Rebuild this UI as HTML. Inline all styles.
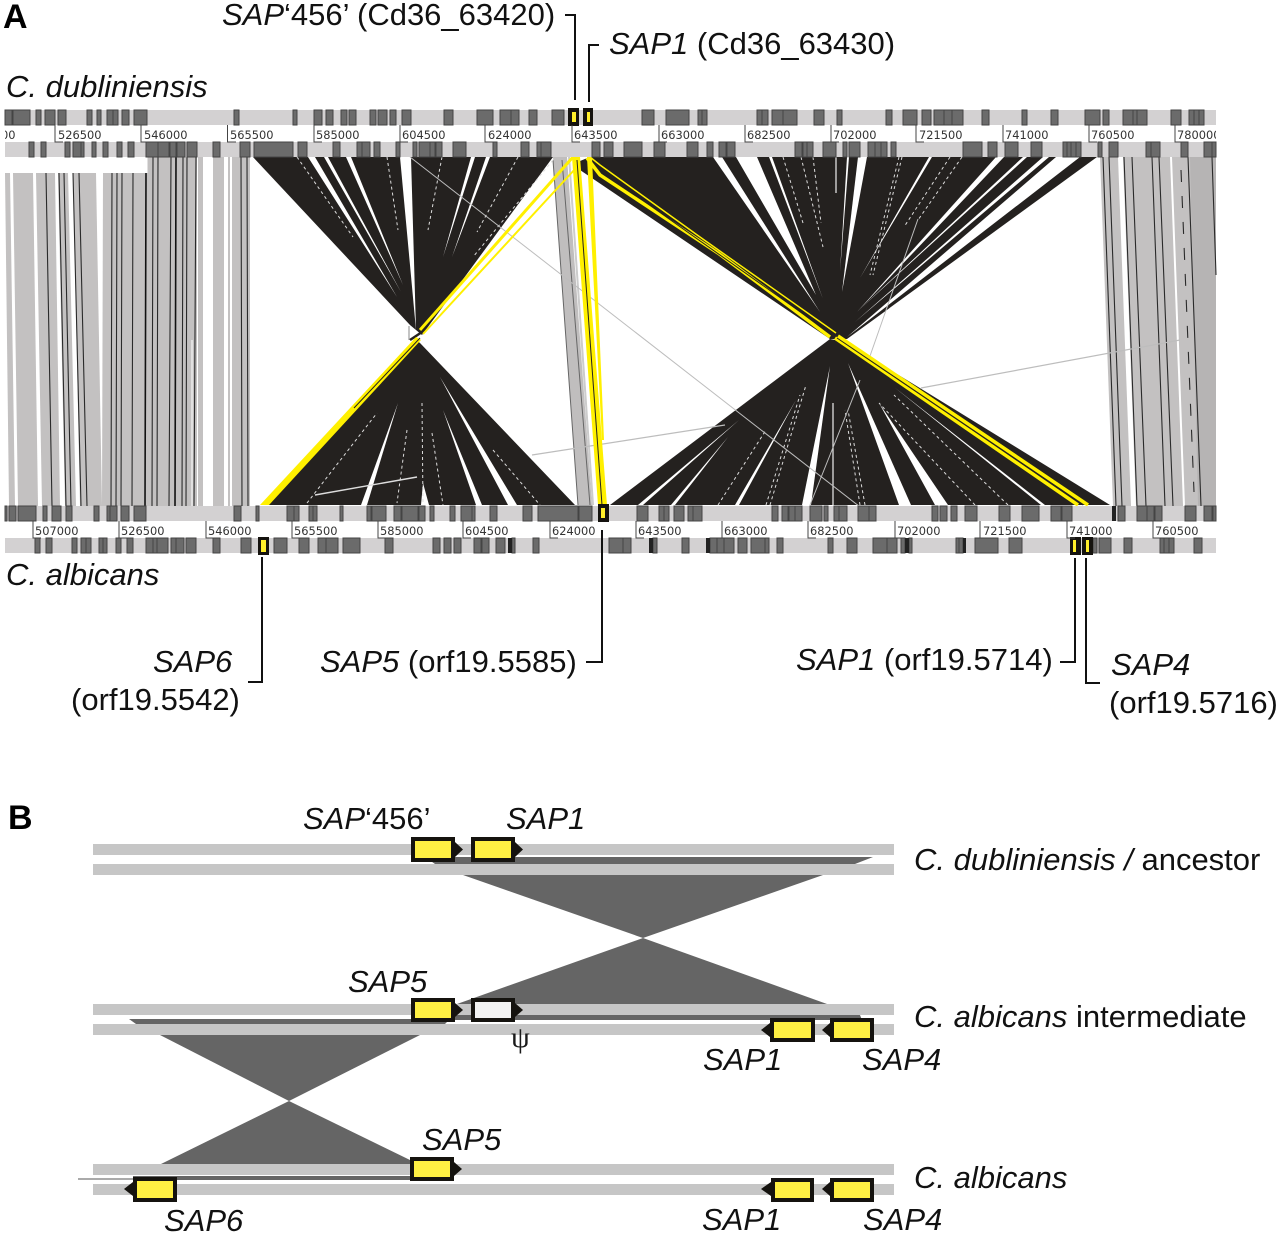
<!DOCTYPE html>
<html><head><meta charset="utf-8"><style>
html,body{margin:0;padding:0;background:#fff}
svg{display:block}
.t{font-family:"Liberation Sans",sans-serif;font-size:31px;fill:#111}
.i{font-style:italic}
.b{font-weight:bold;font-size:34px;fill:#000}
.r{font-family:"DejaVu Sans",sans-serif;font-size:11.4px;fill:#333}
.box{fill:#6b6b6b;stroke:#444;stroke-width:1}
</style></head><body>
<svg width="1280" height="1234" viewBox="0 0 1280 1234" xmlns="http://www.w3.org/2000/svg">
<defs><clipPath id="c"><rect x="5" y="100" width="1211" height="460"/></clipPath></defs>
<rect width="1280" height="1234" fill="#fff"/>

<!-- grey ribbons left -->
<g fill="#c3c1c1">
<polygon points="5,173 10,173 15,506 9,506"/>
<polygon points="13,173 33,173 38,506 18,506"/>
<polygon points="36,173 55,173 60,506 42,506"/>
<polygon points="58,173 68,173 76,506 65,506"/>
<polygon points="73,173 96,173 102,506 80,506"/>
<polygon points="103,173 147,173 147,506 102,506"/>
<rect x="147" y="157" width="50" height="349"/>
<rect x="198" y="157" width="5" height="349"/>
<rect x="213" y="157" width="11" height="349"/>
<rect x="228" y="157" width="2" height="349"/>
<rect x="232" y="157" width="18" height="349"/>
</g>
<g stroke="#2a2a2a" stroke-width="1.1" fill="none">
<path d="M46 173L52 506M59 173L66 506M64 173L71 506M73 173L81 506M79 173L87 506M112 173L111 506M117 173L116 506M122 173L121 506M133 173L132 506M153 157L152 506M158 157L157 506M171 157L169 506M183 157L182 506M187 157L186 506M196 157L194 506M241 157L242 506M247 157L248 506"/>
<path d="M146 173L145 506M176 157L175 506" stroke="#111" stroke-width="1.6"/>
</g>
<g stroke="#fff" stroke-width="1" fill="none"><path d="M192 340L192 506M147 157V173"/></g>

<!-- grey ribbons right -->
<g fill="#c3c1c1">
<polygon points="1100,157 1118,157 1131,506 1113,506"/>
<polygon points="1123,157 1170,157 1183,506 1136,506"/>
<polygon points="1172,157 1216,157 1216,506 1185,506"/>
</g>
<polygon points="1190,157 1216,157 1216,506 1198,506" fill="#b6b4b4"/>
<g stroke="#2a2a2a" stroke-width="1.1" fill="none">
<path d="M1103 157L1116 506M1109 157L1122 506M1124 157L1137 506M1132 157L1146 506M1152 157L1165 506M1159 157L1173 506M1188 157L1201 506M1212 157L1216 275"/>
<path d="M1181 170L1194 492" stroke-dasharray="12 14"/>
</g>

<!-- middle grey -->
<polygon points="553,157 567,157 592,505 578,505" fill="#c0bebe"/>
<path d="M553 160L578 505M562 160L590 505" stroke="#666" stroke-width="1" fill="none"/>
<path d="M569 157L593 505" stroke="#ccc" stroke-width="2" fill="none"/>

<!-- dark wedges -->
<g fill="#24211f">
<polygon points="253,157 553,157 422,335 410,325"/>
<polygon points="268,505 575,505 420,343 416,340"/>
<polygon points="590,157 1097,157 847,339 835,339 830,339 580,170 575,163"/>
<polygon points="610,505 1110,505 845,342 830,339"/>
</g>
<path d="M410 340L422 332" stroke="#24211f" stroke-width="2.500" fill="none"/>
<path d="M409 326V340" stroke="#888" stroke-width="1" fill="none"/>

<!-- white gaps -->
<g fill="#fff">
<polygon points="308,157 315,157 397,297"/>
<polygon points="324,157 328,157 401,292"/>
<polygon points="346,157 351,157 403,285"/>
<polygon points="400,157 411,157 416,330"/>
<polygon points="471,157 475,157 443,257"/>
<polygon points="486,157 490,157 452,257"/>
<polygon points="361,505 367,505 398,403"/>
<polygon points="508,505 517,505 440,377"/>
<polygon points="476,505 482,505 443,410"/>
<polygon points="421,505 429,505 423,483"/>
<polygon points="713,157 722,157 820,312"/>
<polygon points="736,157 757,157 816,295"/>
<polygon points="769,157 772,157 823,299"/>
<polygon points="847,157 849,157 840,272"/>
<polygon points="858,157 867,157 842,292"/>
<polygon points="929,157 932,157 860,278"/>
<polygon points="996,157 1004,157 857,312"/>
<polygon points="1023,157 1027,157 860,309"/>
<polygon points="1043,157 1049,157 855,322"/>
<polygon points="1056,157 1080,157 847,337"/>
<polygon points="638,505 643,505 739,420"/>
<polygon points="671,505 675,505 728,437"/>
<polygon points="735,505 739,505 796,400"/>
<polygon points="802,505 811,505 830,366"/>
<polygon points="899,505 911,505 848,363"/>
<polygon points="935,505 948,505 879,403"/>
<polygon points="1041,505 1045,505 894,387"/>
</g>
<g stroke="#ddd" stroke-width="1" fill="none" stroke-dasharray="3 3">
<path d="M297 157L353 237M387 157L398 230M442 157L428 230M518 157L477 232M553 160L473 257M307 503L377 413M422 403L423 505M407 430L397 503M432 433L443 505M493 450L540 505"/>
<path d="M783 157L803 223M801 157L823 247M813 157L821 223M899 157L870 275M902 157L873 275M950 157L904 227M962 157L918 220M770 505L806 385M766 505L800 395M860 505L845 410M865 505L848 410M975 505L879 403M1008 505L894 395M718 505L766 430"/>
</g>
<path d="M836 157V193M833 505V403" stroke="#eee" stroke-width="1.2" fill="none"/>

<!-- thin grey lines -->
<g stroke="#bdbdbd" stroke-width="1" fill="none">
<path d="M410 157L864 510"/>
<path d="M315 495L417 477" stroke="#ddd" stroke-width="1.4"/>
<path d="M532 455L725 425M921 388L1180 340" stroke-width="1.2"/>
<path d="M918 219L870 356M860 380L810 505"/>
</g>

<!-- yellow -->
<g>
<polygon points="260,505 269,505 421,340 416,337" fill="#fff000"/>
<path d="M420 338L354 408" stroke="#24211f" stroke-width="1" fill="none"/>
<path d="M420 330L573 157" stroke="#fff000" stroke-width="3" fill="none"/>
<path d="M423 334L576 168" stroke="#fff000" stroke-width="2" fill="none"/>
<polygon points="587,157 592,157 604,440 602,440" fill="#fff000"/>
<polygon points="572,157 580,157 607,505 598,505" fill="#fff000"/>
<path d="M577 160L602 505" stroke="#24211f" stroke-width="1" fill="none"/>
<path d="M587 158L600 175L718 253L830 337" stroke="#fff000" stroke-width="3.500" fill="none"/>
<path d="M590 157L600 165L700 237L836 333" stroke="#fff000" stroke-width="1.500" fill="none"/>
<path d="M600 170L830 333" stroke="#24211f" stroke-width="1" fill="none"/>
<path d="M835 338L1078 505" stroke="#fff000" stroke-width="3.500" fill="none"/>
<path d="M838 336L1088 505" stroke="#fff000" stroke-width="3.500" fill="none"/>
<path d="M837 338L1083 505" stroke="#24211f" stroke-width="1" fill="none"/>
</g>

<!-- white block + tracks -->
<rect x="5" y="157" width="142" height="16" fill="#fff"/>
<g fill="#d3d1d2">
<rect x="5" y="110" width="1211" height="15"/><rect x="5" y="142" width="1211" height="15"/>
<rect x="5" y="506" width="1211" height="15"/><rect x="5" y="538" width="1211" height="15"/>
</g>

<!-- track 1 -->
<path class="box" d="M5 110h7v15h-7zM13 110h17v15h-17zM36 110h5v15h-5zM45 110h10v15h-10zM58 110h8v15h-8zM87 110h5v15h-5zM97 110h4v15h-4zM107 110h6v15h-6zM113 110h5v15h-5zM122 110h7v15h-7zM134 110h13v15h-13zM234 110h5v15h-5zM293 110h4v15h-4zM314 110h8v15h-8zM326 110h7v15h-7zM341 110h6v15h-6zM349 110h7v15h-7zM370 110h6v15h-6zM378 110h9v15h-9zM390 110h6v15h-6zM402 110h9v15h-9zM444 110h9v15h-9zM477 110h16v15h-16zM500 110h11v15h-11zM511 110h8v15h-8zM529 110h8v15h-8zM552 110h12v15h-12zM642 110h12v15h-12zM666 110h23v15h-23zM698 110h4v15h-4zM702 110h5v15h-5zM757 110h5v15h-5zM762 110h6v15h-6zM772 110h11v15h-11zM783 110h14v15h-14zM814 110h10v15h-10zM837 110h5v15h-5zM886 110h6v15h-6zM903 110h14v15h-14zM922 110h9v15h-9zM934 110h10v15h-10zM944 110h8v15h-8zM952 110h11v15h-11zM982 110h7v15h-7zM1022 110h5v15h-5zM1051 110h7v15h-7zM1085 110h15v15h-15zM1103 110h6v15h-6zM1123 110h10v15h-10zM1133 110h4v15h-4zM1137 110h10v15h-10zM1171 110h10v15h-10zM1189 110h5v15h-5zM1194 110h5v15h-5zM1199 110h5v15h-5z"/>
<!-- track 2 -->
<path class="box" d="M29 142h5v15h-5zM41 142h5v15h-5zM65 142h5v15h-5zM73 142h8v15h-8zM81 142h3v15h-3zM92 142h4v15h-4zM103 142h5v15h-5zM117 142h5v15h-5zM128 142h6v15h-6zM146 142h12v15h-12zM158 142h11v15h-11zM170 142h6v15h-6zM177 142h8v15h-8zM187 142h10v15h-10zM213 142h7v15h-7zM240 142h10v15h-10zM254 142h39v15h-39zM298 142h9v15h-9zM333 142h7v15h-7zM357 142h5v15h-5zM362 142h8v15h-8zM374 142h6v15h-6zM396 142h4v15h-4zM413 142h4v15h-4zM419 142h11v15h-11zM430 142h5v15h-5zM436 142h6v15h-6zM453 142h13v15h-13zM493 142h4v15h-4zM521 142h8v15h-8zM537 142h4v15h-4zM541 142h10v15h-10zM592 142h8v15h-8zM604 142h9v15h-9zM624 142h18v15h-18zM654 142h11v15h-11zM687 142h11v15h-11zM707 142h6v15h-6zM719 142h7v15h-7zM727 142h8v15h-8zM795 142h7v15h-7zM803 142h4v15h-4zM807 142h6v15h-6zM823 142h13v15h-13zM843 142h4v15h-4zM849 142h11v15h-11zM868 142h7v15h-7zM875 142h6v15h-6zM881 142h6v15h-6zM891 142h5v15h-5zM963 142h19v15h-19zM988 142h9v15h-9zM1005 142h13v15h-13zM1031 142h11v15h-11zM1063 142h4v15h-4zM1067 142h4v15h-4zM1071 142h5v15h-5zM1076 142h5v15h-5zM1098 142h4v15h-4zM1109 142h9v15h-9zM1146 142h5v15h-5zM1151 142h9v15h-9zM1181 142h7v15h-7zM1204 142h8v15h-8zM1212 142h4v15h-4z"/>
<!-- track 3 -->
<path class="box" d="M5 506h2v15h-2zM9 506h7v15h-7zM18 506h18v15h-18zM43 506h4v15h-4zM52 506h9v15h-9zM66 506h6v15h-6zM94 506h5v15h-5zM107 506h3v15h-3zM110 506h7v15h-7zM121 506h8v15h-8zM134 506h12v15h-12zM234 506h7v15h-7zM256 506h3v15h-3zM287 506h7v15h-7zM294 506h5v15h-5zM309 506h4v15h-4zM313 506h4v15h-4zM340 506h3v15h-3zM367 506h4v15h-4zM372 506h14v15h-14zM394 506h7v15h-7zM402 506h16v15h-16zM419 506h6v15h-6zM430 506h4v15h-4zM450 506h5v15h-5zM461 506h11v15h-11zM472 506h3v15h-3zM490 506h7v15h-7zM523 506h9v15h-9zM538 506h40v15h-40zM579 506h13v15h-13zM637 506h11v15h-11zM659 506h5v15h-5zM664 506h5v15h-5zM674 506h10v15h-10zM688 506h5v15h-5zM693 506h9v15h-9zM772 506h6v15h-6zM782 506h6v15h-6zM789 506h6v15h-6zM795 506h7v15h-7zM810 506h12v15h-12zM824 506h4v15h-4zM834 506h5v15h-5zM839 506h8v15h-8zM858 506h11v15h-11zM869 506h7v15h-7zM932 506h6v15h-6zM940 506h7v15h-7zM951 506h6v15h-6zM965 506h12v15h-12zM999 506h11v15h-11zM1022 506h17v15h-17zM1051 506h10v15h-10zM1062 506h10v15h-10zM1118 506h7v15h-7zM1137 506h10v15h-10zM1147 506h7v15h-7zM1155 506h7v15h-7zM1185 506h11v15h-11zM1204 506h8v15h-8zM1213 506h3v15h-3z"/>
<rect x="1112" y="506" width="4" height="15" fill="#222"/>
<!-- track 4 -->
<path class="box" d="M35 538h5v15h-5zM46 538h6v15h-6zM72 538h5v15h-5zM81 538h5v15h-5zM86 538h5v15h-5zM99 538h4v15h-4zM103 538h4v15h-4zM116 538h5v15h-5zM127 538h6v15h-6zM146 538h7v15h-7zM153 538h4v15h-4zM157 538h11v15h-11zM171 538h5v15h-5zM176 538h8v15h-8zM186 538h10v15h-10zM213 538h7v15h-7zM241 538h10v15h-10zM274 538h13v15h-13zM299 538h10v15h-10zM318 538h8v15h-8zM326 538h12v15h-12zM343 538h17v15h-17zM385 538h8v15h-8zM433 538h7v15h-7zM444 538h7v15h-7zM454 538h7v15h-7zM474 538h7v15h-7zM482 538h7v15h-7zM496 538h9v15h-9zM512 538h3v15h-3zM533 538h6v15h-6zM609 538h14v15h-14zM623 538h8v15h-8zM653 538h4v15h-4zM682 538h7v15h-7zM710 538h7v15h-7zM717 538h7v15h-7zM724 538h10v15h-10zM738 538h9v15h-9zM751 538h14v15h-14zM765 538h4v15h-4zM777 538h6v15h-6zM828 538h5v15h-5zM847 538h10v15h-10zM873 538h14v15h-14zM887 538h10v15h-10zM901 538h4v15h-4zM909 538h3v15h-3zM956 538h3v15h-3zM959 538h4v15h-4zM975 538h23v15h-23zM1009 538h13v15h-13zM1093 538h4v15h-4zM1099 538h12v15h-12zM1124 538h8v15h-8zM1160 538h4v15h-4zM1164 538h5v15h-5zM1169 538h5v15h-5zM1194 538h8v15h-8z"/>
<g fill="#222"><rect x="508" y="538" width="4" height="15"/><rect x="649" y="538" width="4" height="15"/><rect x="706" y="538" width="4" height="15"/><rect x="905" y="538" width="4" height="15"/><rect x="963" y="538" width="3" height="15"/></g>

<!-- SAP markers -->
<g fill="#15130f">
<rect x="568" y="108" width="11" height="18"/><rect x="583" y="108" width="10" height="18"/>
<rect x="598" y="504" width="11" height="18"/><rect x="258" y="537" width="11" height="18"/>
<rect x="1070" y="537" width="11" height="18"/><rect x="1082" y="537" width="11" height="18"/>
</g>
<g fill="#ffee2a">
<rect x="572" y="112" width="4" height="10"/><rect x="587" y="112" width="3" height="10"/>
<rect x="601" y="508" width="4" height="10"/><rect x="261" y="540" width="5" height="12"/>
<rect x="1073" y="540" width="3" height="12"/><rect x="1086" y="540" width="3" height="12"/>
</g>

<!-- rulers -->
<g fill="none" stroke="#444" stroke-width="1">
<path d="M55 125V142H63M141 125V142H149M227.500 125V142H236M314 125V142H322M400 125V142H408M485 125V142H493M572 125V142H580M659 125V142H667M745 125V142H753M831 125V142H839M916 125V142H924M1003 125V142H1011M1089 125V142H1097M1175 125V142H1183"/>
<path d="M33 521V538H41M119 521V538H127M206 521V538H214M292 521V538H300M378 521V538H386M463 521V538H471M550 521V538H558M636 521V538H644M722 521V538H730M808 521V538H816M895 521V538H903M980 521V538H988M1067 521V538H1075M1153 521V538H1161"/>
</g>
<g class="r" clip-path="url(#c)">
<text x="-28" y="139">507000</text><text x="58" y="139">526500</text><text x="144" y="139">546000</text><text x="230" y="139">565500</text><text x="316" y="139">585000</text><text x="402" y="139">604500</text><text x="488" y="139">624000</text><text x="574" y="139">643500</text><text x="661" y="139">663000</text><text x="747" y="139">682500</text><text x="833" y="139">702000</text><text x="919" y="139">721500</text><text x="1005" y="139">741000</text><text x="1091" y="139">760500</text><text x="1177" y="139">780000</text>
<text x="35" y="535">507000</text><text x="121" y="535">526500</text><text x="208" y="535">546000</text><text x="294" y="535">565500</text><text x="380" y="535">585000</text><text x="465" y="535">604500</text><text x="552" y="535">624000</text><text x="638" y="535">643500</text><text x="724" y="535">663000</text><text x="810" y="535">682500</text><text x="897" y="535">702000</text><text x="983" y="535">721500</text><text x="1069" y="535">741000</text><text x="1155" y="535">760500</text>
</g>

<!-- leader lines -->
<g fill="none" stroke="#111" stroke-width="2">
<path d="M565 15H575V100M599 45H589V102M262 557V682H248M602 530V662H586M1075 558V662H1060M1086 558V683H1100"/>
</g>

<!-- panel A text -->
<text class="b t" x="3" y="28" style="font-family:'Liberation Sans',sans-serif">A</text>
<text class="t" x="222" y="25"><tspan class="i">SAP</tspan>‘456’ (Cd36_63420)</text>
<text class="t" x="609" y="54"><tspan class="i">SAP1</tspan> (Cd36_63430)</text>
<text class="t i" x="6" y="97">C. dubliniensis</text>
<text class="t i" x="6" y="585">C. albicans</text>
<text class="t i" x="153" y="672">SAP6</text>
<text class="t" x="71" y="710">(orf19.5542)</text>
<text class="t" x="320" y="672"><tspan class="i">SAP5</tspan> (orf19.5585)</text>
<text class="t" x="796" y="670"><tspan class="i">SAP1</tspan> (orf19.5714)</text>
<text class="t i" x="1111" y="675">SAP4</text>
<text class="t" x="1109" y="713">(orf19.5716)</text>

<!-- panel B -->
<text class="b t" x="8" y="829" style="font-family:'Liberation Sans',sans-serif">B</text>
<g fill="#c6c6c6">
<rect x="93" y="844" width="801" height="11"/><rect x="93" y="864" width="801" height="11"/>
<rect x="93" y="1004" width="801" height="11"/><rect x="93" y="1024" width="801" height="11"/>
<rect x="93" y="1164" width="801" height="11"/><rect x="93" y="1184" width="801" height="11"/>
</g>
<g fill="#656565">
<polygon points="425,857 873,857 855,864 435,864"/>
<polygon points="463,875 823,875 643,938"/>
<polygon points="643,938 457,1004 827,1004"/>
<polygon points="455,1015 860,1015 862,1020 455,1020"/>
<polygon points="129,1019 450,1019 445,1024 136,1024"/>
<polygon points="160,1035 420,1035 289,1101"/>
<polygon points="289,1101 161,1164 410,1164 410,1160"/>
<polygon points="133,1176 410,1176 410,1180 133,1180"/>
</g>
<path d="M78 1179H133" stroke="#555" stroke-width="1" fill="none"/>

<!-- gene arrowheads -->
<g fill="#15130f">
<polygon points="455,842 463,849.500 455,857"/><polygon points="515,842 523,849.500 515,857"/>
<polygon points="455,1003 463,1010 455,1017"/><polygon points="515,1003 523,1010 515,1017"/>
<polygon points="454,1162 462,1169 454,1176"/>
<polygon points="770,1023 761,1030 770,1037"/><polygon points="830,1023 822,1030 830,1037"/>
<polygon points="133,1182 124,1189 133,1196"/>
<polygon points="771,1182 761,1189 771,1196"/><polygon points="830,1182 822,1189 830,1196"/>
</g>
<g stroke="#15130f" stroke-width="4" fill="#fff043">
<rect x="413" y="839" width="40" height="21"/><rect x="473" y="839" width="40" height="21"/>
<rect x="413" y="1000" width="40" height="20"/><rect x="473" y="1000" width="40" height="20" fill="#f2f2f2"/>
<rect x="772" y="1020" width="41" height="20"/><rect x="832" y="1020" width="40" height="20"/>
<rect x="412" y="1159" width="40" height="20"/><rect x="135" y="1179" width="40" height="21"/>
<rect x="773" y="1180" width="39" height="20"/><rect x="832" y="1180" width="40" height="20"/>
</g>

<text class="t" x="303" y="829"><tspan class="i">SAP</tspan>‘456’</text>
<text class="t i" x="506" y="829">SAP1</text>
<text class="t" x="914" y="870"><tspan class="i">C. dubliniensis /</tspan> ancestor</text>
<text class="t i" x="348" y="992">SAP5</text>
<text class="t" x="914" y="1027"><tspan class="i">C. albicans</tspan> intermediate</text>
<text x="511" y="1047" style="font-family:'Liberation Serif',serif;font-size:30px;fill:#1a1a1a">ψ</text>
<text class="t i" x="703" y="1070">SAP1</text>
<text class="t i" x="862" y="1070">SAP4</text>
<text class="t i" x="422" y="1150">SAP5</text>
<text class="t i" x="914" y="1188">C. albicans</text>
<text class="t i" x="164" y="1231">SAP6</text>
<text class="t i" x="702" y="1230">SAP1</text>
<text class="t i" x="863" y="1230">SAP4</text>
</svg>
</body></html>
